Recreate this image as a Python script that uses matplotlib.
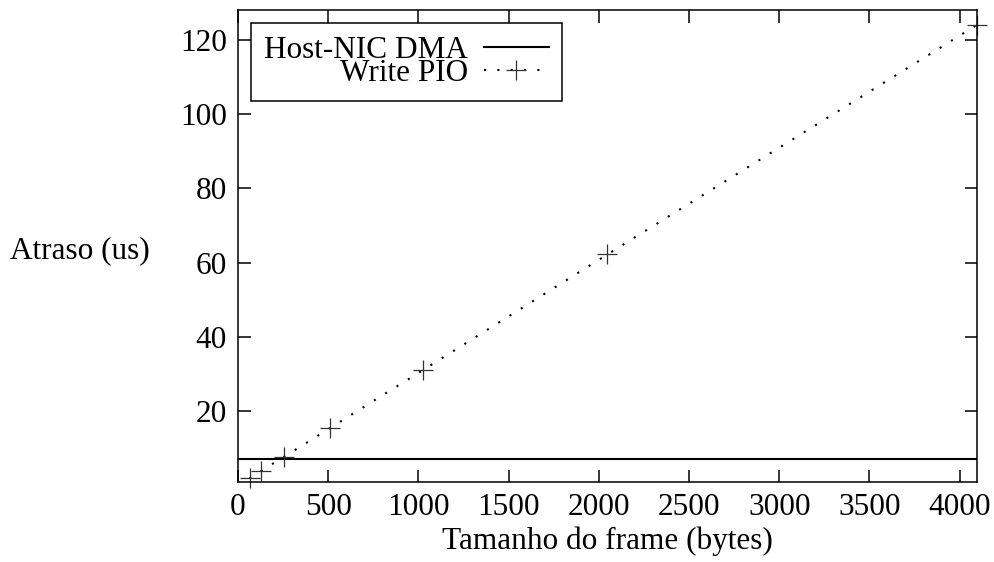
import matplotlib
matplotlib.use("Agg")
import matplotlib.pyplot as plt

# frame size (bytes) vs delay (us)
frame_sizes = [64, 128, 256, 512, 1024, 2048, 4096]
write_pio = [1.9, 3.9, 7.7, 15.5, 31.0, 62.2, 124.0]
dma_delay = 7.1

x_ticks = [0, 500, 1000, 1500, 2000, 2500, 3000, 3500, 4000]
y_ticks = [20, 40, 60, 80, 100, 120]

plt.rcParams['font.family'] = ['Liberation Serif', 'DejaVu Serif']
plt.rcParams['font.size'] = 22.5

fig = plt.figure(figsize=(9.94, 5.62), dpi=100)
ax = fig.add_axes([0.2394, 0.1423, 0.7435, 0.8399])

ax.axhline(dma_delay, color='black', lw=1.5, label='Host-NIC DMA')
ax.plot(frame_sizes, write_pio, color='black', lw=1.5, ls=(0, (1, 5.4)),
        marker='+', ms=15, mew=0.9, mec='#333333', label='Write PIO',
        clip_on=False)

ax.set_xlim(0, 4096)
ax.set_ylim(0.9, 128)
ax.set_xticks(x_ticks)
ax.set_yticks(y_ticks)
ax.tick_params(direction='in', length=9, width=1.1, top=True, right=True, pad=8)
for s in ax.spines.values():
    s.set_linewidth(1.1)

ax.set_xlabel('Tamanho do frame (bytes)', labelpad=3)
ax.set_ylabel('Atraso (us)', rotation=0, ha='right', va='center', labelpad=0)
ax.yaxis.set_label_coords(-0.12, 0.49)

leg = ax.legend(loc='upper left', bbox_to_anchor=(0.0175, 0.973), markerfirst=False,
                fancybox=False, framealpha=1, edgecolor='black', handlelength=2.1,
                borderpad=0.42, labelspacing=-0.2, handletextpad=0.5, borderaxespad=0)
leg.get_frame().set_linewidth(1.1)

fig.savefig('out.png', dpi=100)
